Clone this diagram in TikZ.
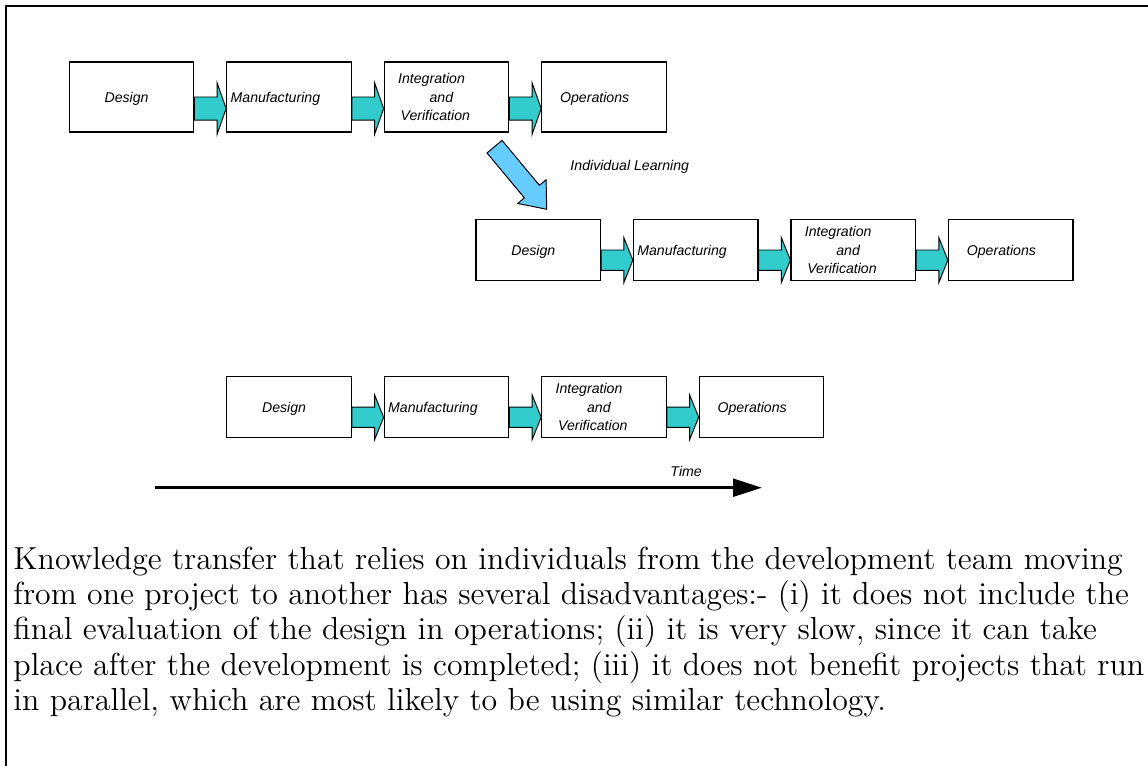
\documentclass[tikz,border=0pt]{standalone}
\usepackage{fontspec}
\newfontfamily\helvfam{Liberation Sans}
\usetikzlibrary{calc,arrows.meta}
\definecolor{flowteal}{RGB}{51,204,204}
\definecolor{learnblue}{RGB}{102,204,255}
\newcommand\pxu{0.4142pt}

% block arrow from the east side of box #1 to the west side of box #2 (#3 = box height)
\newcommand\flowarrow[3]{%
  \draw[flowtip] (#1.east)
    -- ($(#2.west)+(-9,0)$)
    -- ($(#2.west)+(-9,{-0.2*#3})$)
    -- ($(#2.west)+(0,{0.165*#3})$)
    -- ($(#2.west)+(-9,{0.53*#3})$)
    -- ($(#2.west)+(-9,{0.33*#3})$)
    -- ($(#1.east)+(0,{0.33*#3})$) -- cycle;}

% one life-cycle row: #1 name prefix, #2 x of first box centre, #3 y centre, #4 box height
\newcommand\stagerow[4]{%
  \node[stagebox, minimum height=#4*\pxu] (#1d) at (#2,#3) {};
  \node[stagebox, minimum height=#4*\pxu] (#1m) at ({#2+157.5},#3) {};
  \node[stagebox, minimum height=#4*\pxu] (#1i) at ({#2+315},#3) {};
  \node[stagebox, minimum height=#4*\pxu] (#1o) at ({#2+472.5},#3) {};
  \node[lbl] (#1dt) at ($(#1d.west)+(35.5,5.5)$) {Design};
  \node[lbl] (#1mt) at ($(#1m.west)+(4,5.5)$) {Manufacturing};
  \node[lbl] (#1it) at ($(#1i.west)+(14,-13.5)$) {Integration};
  \node[lbl] (#1at) at ($(#1i.west)+(45.5,5.5)$) {and};
  \node[lbl] (#1vt) at ($(#1i.west)+(16.5,23.5)$) {Verification};
  \node[lbl] (#1ot) at ($(#1o.west)+(18.5,5.5)$) {Operations};
  \flowarrow{#1d}{#1m}{#4}
  \flowarrow{#1m}{#1i}{#4}
  \flowarrow{#1i}{#1o}{#4}}

\begin{document}
\begin{tikzpicture}[x=0.4142pt, y=-0.4142pt,
  stagebox/.style={draw=black, line width=0.5pt, fill=white, inner sep=0pt,
    minimum width=124.5*\pxu},
  lbl/.style={font=\helvfam\itshape\fontsize{5.85}{7}\selectfont, inner sep=0pt,
    anchor=base west},
  flowtip/.style={draw=black, line width=0.4pt, fill=flowteal, line join=miter},
  learnarrow/.style={draw=black, line width=0.4pt, fill=learnblue, line join=miter},
  bodytext/.style={font=\fontsize{13.2}{14.5}\selectfont, align=left, inner sep=0pt}]
\useasboundingbox (0,0) rectangle (1148,766);

% open frame: left and top edges
\draw[line width=0.83pt] (5.8,766) -- (5.8,5.8) -- (1148,5.8);

% three project life cycles
\stagerow{ra}{131.5}{97}{70}
\stagerow{rb}{538.2}{250}{61.5}
\stagerow{rc}{289}{407.2}{61}

% individual learning carried from one project to the next
\draw[learnarrow] (502,140.4) -- (539.4,185.3) -- (546.1,179.8) -- (546.7,209.3)
  -- (517.7,203.4) -- (524.4,197.9) -- (487,153) -- cycle;
\node[lbl] (learn) at (570,171) {Individual Learning};

% time axis
\coordinate (t0) at (155,487.7);
\coordinate (t1) at (762,487.7);
\draw[line width=1.37pt, -{Triangle[length=12pt, width=7.3pt]}] (t0) -- (t1);
\node[lbl] (time) at (670,476.7) {Time};

% caption (base anchor sits on the last line)
\node[bodytext, anchor=base west] (note) at (13,710) {Knowledge transfer that relies on individuals from the development team moving\\
from one project to another has several disadvantages:- (i) it does not include the\\
final evaluation of the design in operations; (ii) it is very slow, since it can take\\
place after the development is completed; (iii) it does not benefit projects that run\\
in parallel, which are most likely to be using similar technology.};
\end{tikzpicture}
\end{document}
